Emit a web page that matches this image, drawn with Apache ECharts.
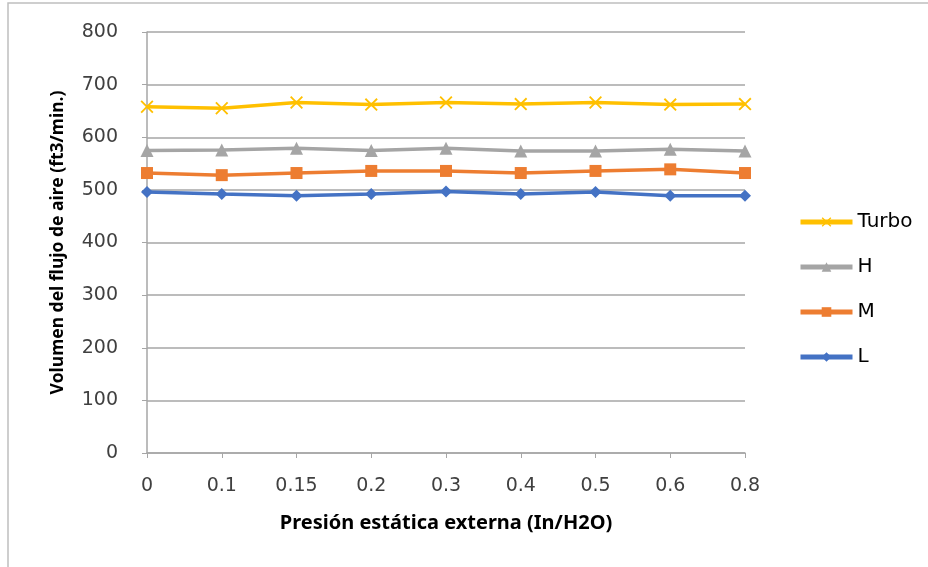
<!DOCTYPE html>
<html>
<head>
<meta charset="utf-8">
<script src="https://cdn.jsdelivr.net/npm/echarts@6/dist/echarts.min.js"></script>
<style>
  html, body { margin: 0; padding: 0; background: #fff; }
  #chart { width: 928px; height: 567px; }
</style>
</head>
<body>
<div id="chart"></div>
<script>
// presion estatica externa (In/H2O)
var presion = ['0', '0.1', '0.15', '0.2', '0.3', '0.4', '0.5', '0.6', '0.8'];

// flujo de aire por velocidad (ft3/min.)
var turbo = [658, 655, 666, 662, 666, 663, 666, 662, 663];
var alta  = [575, 576, 579, 575, 579, 574, 574, 577, 574];
var media = [532, 528, 532, 536, 536, 532, 536, 539, 532];
var baja  = [496, 492, 489, 492, 497, 492, 496, 489, 489];

var cruz = 'path://M0,1 L1,0 L5,4 L9,0 L10,1 L6,5 L10,9 L9,10 L5,6 L1,10 L0,9 L4,5 Z';
var fuente = '"DejaVu Sans", sans-serif';
var fuenteTitulo = '"Noto Sans", sans-serif';

function serie(nombre, datos, color, simbolo, tam) {
  return {
    name: nombre,
    type: 'line',
    data: datos,
    symbol: simbolo,
    symbolSize: tam,
    showAllSymbol: true,
    lineStyle: { color: color, width: 3.5 },
    itemStyle: { color: color },
    emphasis: { disabled: true }
  };
}

var myChart = echarts.init(document.getElementById('chart'));
var option = {
  animation: false,
  textStyle: { fontFamily: fuente },
  graphic: [{
    type: 'rect',
    shape: { x: 8, y: 3, width: 940, height: 600 },
    style: { fill: 'none', stroke: '#bfbfbf', lineWidth: 1.5 },
    silent: true
  }],
  grid: { left: 147, right: 183, top: 32, bottom: 114 },
  legend: {
    orient: 'vertical',
    left: 793,
    top: 207,
    itemGap: 25,
    itemWidth: 52,
    itemHeight: 12,
    lineStyle: { width: 5 },
    textStyle: { fontSize: 20, color: '#000', fontFamily: fuente },
    data: ['Turbo', 'H', 'M', 'L']
  },
  xAxis: {
    type: 'category',
    data: presion,
    boundaryGap: false,
    name: 'Presión estática externa (In/H2O)',
    nameLocation: 'middle',
    nameGap: 60,
    nameTextStyle: { fontSize: 20, fontWeight: 'bold', color: '#000', fontFamily: fuenteTitulo },
    axisLine: { lineStyle: { color: '#a6a6a6', width: 1.5 } },
    axisTick: { show: true, length: 5, lineStyle: { color: '#a6a6a6' } },
    axisLabel: { fontSize: 19, color: '#404040', margin: 24 },
    splitLine: { show: false }
  },
  yAxis: {
    type: 'value',
    min: 0,
    max: 800,
    interval: 100,
    name: 'Volumen del flujo de aire (ft3/min.)',
    nameLocation: 'middle',
    nameGap: 80,
    nameTextStyle: { fontSize: 17.5, fontWeight: 'bold', color: '#000', fontFamily: fuenteTitulo },
    axisLine: { show: true, lineStyle: { color: '#a6a6a6', width: 1.5 } },
    axisTick: { show: true, length: 5, lineStyle: { color: '#a6a6a6' } },
    axisLabel: { fontSize: 19, color: '#404040', margin: 29 },
    splitLine: { lineStyle: { color: '#a6a6a6', width: 1.5 } }
  },
  series: [
    serie('Turbo', turbo, '#FFC000', cruz, 13),
    serie('H', alta, '#A5A5A5', 'triangle', 13),
    serie('M', media, '#ED7D31', 'rect', 12),
    serie('L', baja, '#4472C4', 'diamond', 12)
  ]
};
myChart.setOption(option);
</script>
</body>
</html>
